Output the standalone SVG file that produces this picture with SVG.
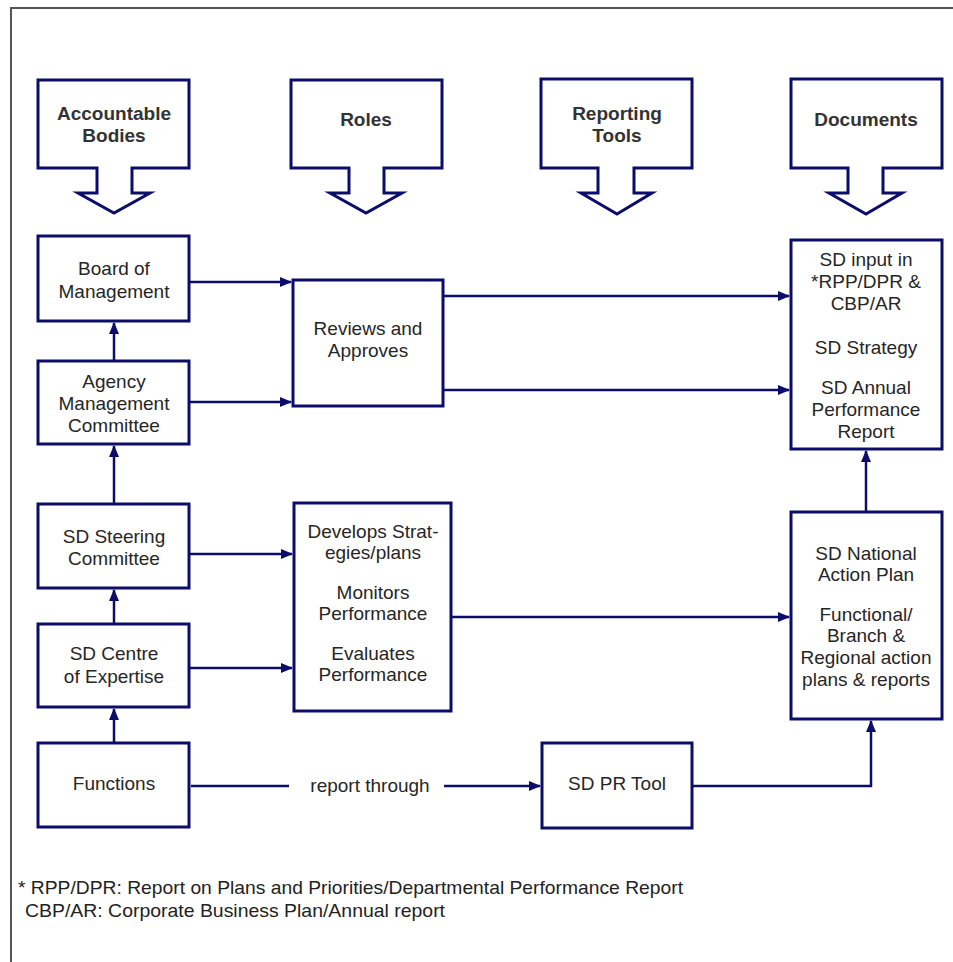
<svg xmlns="http://www.w3.org/2000/svg" width="953" height="962" viewBox="0 0 953 962">
<defs>
<marker id="ah" markerWidth="12" markerHeight="10" refX="11" refY="5" orient="auto" markerUnits="userSpaceOnUse">
<path d="M0,0 L12,5 L0,10 Z" fill="#0c0c6a"/>
</marker>
<style>
.box{fill:#fff;stroke:#0c0c6a;stroke-width:3}
.hdr{fill:#fff;stroke:#0c0c6a;stroke-width:3;stroke-linejoin:miter}
.ht{font-family:"Liberation Sans",Arial,sans-serif;font-size:19px;font-weight:bold;fill:#333;text-anchor:middle}
.t{font-family:"Liberation Sans",Arial,sans-serif;font-size:19px;fill:#262626;text-anchor:middle}
.c{fill:none;stroke:#0c0c6a;stroke-width:2.5}
.fn{font-family:"Liberation Sans Narrow","Liberation Sans",Arial,sans-serif;font-size:19px;fill:#222}
</style>
</defs>
<rect x="0" y="0" width="953" height="962" fill="#fff"/>
<rect x="11" y="8" width="960" height="980" fill="none" stroke="#555" stroke-width="2"/>

<g id="hdr-accountable">
<path class="hdr" d="M38,80 H189 V168 H132 V193 H150 L114,213 L78,193 H97 V168 H38 Z"/>
<text class="ht" x="114" y="120">Accountable</text>
<text class="ht" x="114" y="142">Bodies</text>
</g>
<g id="hdr-roles">
<path class="hdr" d="M291,80 H442 V168 H384 V193 H402 L366,213 L330,193 H349 V168 H291 Z"/>
<text class="ht" x="366" y="126">Roles</text>
</g>
<g id="hdr-tools">
<path class="hdr" d="M541,79 H692 V168 H634 V193 H652 L617,214 L581,193 H598 V168 H541 Z"/>
<text class="ht" x="617" y="120">Reporting</text>
<text class="ht" x="617" y="142">Tools</text>
</g>
<g id="hdr-documents">
<path class="hdr" d="M791,79 H942 V168 H883 V193 H902 L866,214 L829,193 H848 V168 H791 Z"/>
<text class="ht" x="866" y="126">Documents</text>
</g>

<g id="board">
<rect class="box" x="38" y="236" width="151" height="85"/>
<text class="t" x="114" y="275">Board of</text>
<text class="t" x="114" y="298">Management</text>
</g>
<g id="agency">
<rect class="box" x="38" y="361" width="151" height="83"/>
<text class="t" x="114" y="388">Agency</text>
<text class="t" x="114" y="410">Management</text>
<text class="t" x="114" y="432">Committee</text>
</g>
<g id="steering">
<rect class="box" x="38" y="504" width="151" height="84"/>
<text class="t" x="114" y="543">SD Steering</text>
<text class="t" x="114" y="565">Committee</text>
</g>
<g id="centre">
<rect class="box" x="38" y="624" width="151" height="83"/>
<text class="t" x="114" y="660">SD Centre</text>
<text class="t" x="114" y="683">of Expertise</text>
</g>
<g id="functions">
<rect class="box" x="38" y="743" width="151" height="84"/>
<text class="t" x="114" y="790">Functions</text>
</g>

<g id="reviews">
<rect class="box" x="293" y="280" width="150" height="126"/>
<text class="t" x="368" y="335">Reviews and</text>
<text class="t" x="368" y="357">Approves</text>
</g>
<g id="develops">
<rect class="box" x="294" y="503" width="157" height="208"/>
<text class="t" x="373" y="538">Develops Strat-</text>
<text class="t" x="373" y="559">egies/plans</text>
<text class="t" x="373" y="599">Monitors</text>
<text class="t" x="373" y="620">Performance</text>
<text class="t" x="373" y="660">Evaluates</text>
<text class="t" x="373" y="681">Performance</text>
</g>
<g id="prtool">
<rect class="box" x="542" y="743" width="150" height="85"/>
<text class="t" x="617" y="790">SD PR Tool</text>
</g>

<g id="docs">
<rect class="box" x="791" y="240" width="151" height="209"/>
<text class="t" x="866" y="266">SD input in</text>
<text class="t" x="866" y="288">*RPP/DPR &amp;</text>
<text class="t" x="866" y="310">CBP/AR</text>
<text class="t" x="866" y="354">SD Strategy</text>
<text class="t" x="866" y="394">SD Annual</text>
<text class="t" x="866" y="416">Performance</text>
<text class="t" x="866" y="438">Report</text>
</g>
<g id="national">
<rect class="box" x="791" y="512" width="151" height="207"/>
<text class="t" x="866" y="560">SD National</text>
<text class="t" x="866" y="581">Action Plan</text>
<text class="t" x="866" y="621">Functional/</text>
<text class="t" x="866" y="642">Branch &amp;</text>
<text class="t" x="866" y="664">Regional action</text>
<text class="t" x="866" y="686">plans &amp; reports</text>
</g>

<g id="connectors">
<line class="c" x1="114" y1="361" x2="114" y2="323" marker-end="url(#ah)"/>
<line class="c" x1="114" y1="504" x2="114" y2="446" marker-end="url(#ah)"/>
<line class="c" x1="114" y1="624" x2="114" y2="590" marker-end="url(#ah)"/>
<line class="c" x1="114" y1="743" x2="114" y2="709" marker-end="url(#ah)"/>
<line class="c" x1="189" y1="282" x2="291" y2="282" marker-end="url(#ah)"/>
<line class="c" x1="189" y1="402" x2="291" y2="402" marker-end="url(#ah)"/>
<line class="c" x1="443" y1="296" x2="789" y2="296" marker-end="url(#ah)"/>
<line class="c" x1="443" y1="390" x2="789" y2="390" marker-end="url(#ah)"/>
<line class="c" x1="189" y1="554" x2="292" y2="554" marker-end="url(#ah)"/>
<line class="c" x1="189" y1="668" x2="292" y2="668" marker-end="url(#ah)"/>
<line class="c" x1="451" y1="617" x2="789" y2="617" marker-end="url(#ah)"/>
<line class="c" x1="866" y1="512" x2="866" y2="451" marker-end="url(#ah)"/>
<line class="c" x1="191" y1="786" x2="289" y2="786"/>
<text class="t" x="370" y="792">report through</text>
<line class="c" x1="444" y1="786" x2="540" y2="786" marker-end="url(#ah)"/>
<polyline class="c" points="692,786 871,786 871,721" marker-end="url(#ah)"/>
</g>

<g id="footnote">
<text class="fn" x="18" y="894" textLength="665" lengthAdjust="spacingAndGlyphs">* RPP/DPR: Report on Plans and Priorities/Departmental Performance Report</text>
<text class="fn" x="25" y="917" textLength="420" lengthAdjust="spacingAndGlyphs">CBP/AR: Corporate Business Plan/Annual report</text>
</g>
</svg>
